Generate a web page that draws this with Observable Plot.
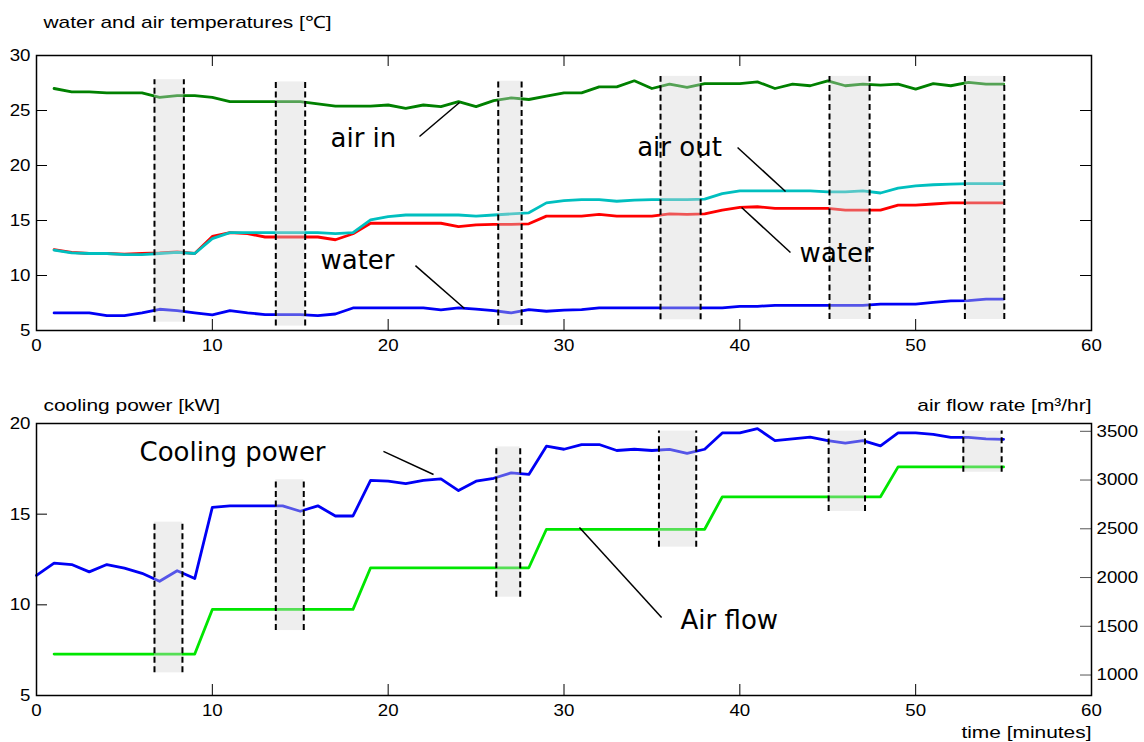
<!DOCTYPE html>
<html><head><meta charset="utf-8">
<script src="https://cdn.jsdelivr.net/npm/d3@7"></script>
<script src="https://cdn.jsdelivr.net/npm/@observablehq/plot@0.6"></script>
<style>
body{margin:0;background:#fff;}
#chart{width:1144px;height:742px;background:#fff;}
#chart svg{display:block;}
</style>
</head><body><div id="chart"></div>
<script>
// ---------- data ----------
const minutes = [1,2,3,4,5,6,7,8,9,10,11,12,13,14,15,16,17,18,19,20,21,22,23,24,25,26,27,28,29,30,31,32,33,34,35,36,37,38,39,40,41,42,43,44,45,46,47,48,49,50,51,52,53,54,55];
const airIn = [27.0,26.7,26.7,26.6,26.6,26.6,26.2,26.35,26.35,26.2,25.8,25.8,25.8,25.8,25.8,25.6,25.4,25.4,25.4,25.5,25.2,25.5,25.35,25.8,25.35,25.9,26.15,26.0,26.3,26.6,26.6,27.15,27.15,27.7,27.0,27.4,27.1,27.45,27.45,27.45,27.6,27.0,27.4,27.25,27.7,27.25,27.4,27.3,27.4,26.95,27.45,27.25,27.55,27.4,27.4];
const airOut = [12.3,12.05,12.0,12.0,11.9,11.9,12.0,12.1,12.0,13.35,13.9,13.9,13.9,13.9,13.9,13.9,13.8,13.9,15.05,15.35,15.5,15.5,15.5,15.5,15.4,15.5,15.6,15.7,16.6,16.8,16.9,16.9,16.75,16.85,16.9,16.9,16.9,16.95,17.45,17.7,17.7,17.7,17.7,17.7,17.6,17.6,17.7,17.5,17.95,18.15,18.25,18.3,18.35,18.35,18.35];
const waterOut = [12.35,12.1,12.0,12.0,11.95,12.0,12.05,12.15,12.0,13.55,13.9,13.8,13.5,13.5,13.5,13.5,13.25,13.8,14.75,14.75,14.75,14.75,14.75,14.45,14.6,14.65,14.65,14.7,15.4,15.4,15.4,15.55,15.4,15.4,15.4,15.6,15.55,15.6,15.95,16.2,16.25,16.1,16.1,16.1,16.1,15.95,15.95,15.95,16.4,16.4,16.5,16.6,16.6,16.6,16.6];
const waterIn = [6.6,6.6,6.6,6.35,6.35,6.6,6.93,6.8,6.6,6.43,6.8,6.6,6.45,6.45,6.45,6.35,6.5,7.05,7.05,7.05,7.05,7.05,6.88,7.05,6.95,6.8,6.6,6.9,6.75,6.85,6.9,7.05,7.05,7.05,7.05,7.05,7.05,7.05,7.05,7.2,7.2,7.28,7.28,7.28,7.28,7.28,7.28,7.4,7.4,7.4,7.55,7.7,7.72,7.85,7.85];

const coolMinutes = [0,1,2,3,4,5,6,7,8,9,10,11,12,13,14,15,16,17,18,19,20,21,22,23,24,25,26,27,28,29,30,31,32,33,34,35,36,37,38,39,40,41,42,43,44,45,46,47,48,49,50,51,52,53,54,55];
const coolingPower = [11.62,12.3,12.22,11.82,12.22,12.02,11.74,11.3,11.88,11.45,15.38,15.46,15.46,15.46,15.46,15.16,15.46,14.9,14.9,16.86,16.82,16.69,16.86,16.95,16.3,16.82,16.98,17.28,17.19,18.75,18.58,18.84,18.84,18.51,18.58,18.51,18.57,18.35,18.58,19.48,19.48,19.72,19.06,19.15,19.25,19.06,18.92,19.06,18.77,19.48,19.48,19.4,19.23,19.23,19.15,19.13];
const airFlow = [1215,1215,1215,1215,1215,1215,1215,1215,1215,1673,1673,1673,1673,1673,1673,1673,1673,1673,2100,2100,2100,2100,2100,2100,2100,2100,2100,2100,2495,2495,2495,2495,2495,2495,2495,2495,2495,2495,2828,2828,2828,2828,2828,2828,2828,2828,2828,2828,3135,3135,3135,3135,3135,3135,3135];

// shaded measurement windows (minutes, and vertical extent in axis units)
const topBandStart = [6.71,13.61,26.26,35.49,45.1,52.8];
const topBandEnd   = [8.38,15.28,27.59,37.77,47.38,55.04];
const topBandLow   = [5.75,5.4,5.45,5.97,6.0,6.0];
const topBandHigh  = [27.8,27.6,27.66,28.1,28.1,28.1];
const botBandStart = [6.71,13.61,26.15,35.4,45.05,52.71];
const botBandEnd   = [8.30,15.2,27.51,37.52,47.12,54.89];
const botBandLow   = [6.25,8.58,10.42,13.18,15.15,17.31];
const botBandHigh  = [14.56,16.9,18.71,19.58,19.58,19.58];

// tick labels and axis titles
const xTicks = [0,10,20,30,40,50,60];
const xInner = [10,20,30,40,50];
const tempTicks = [5,10,15,20,25,30];
const powerTicks = [5,10,15,20];
const flowTicks = [1000,1500,2000,2500,3000,3500];
const flowDomain = [790,3580];
const topTitle = "water and air temperatures [℃]";
const leftTitle = "cooling power [kW]";
const rightTitle = "air flow rate [m³/hr]";
const xTitle = "time [minutes]";

// annotations
const topNotes = [
  {label:"air in", x:16.72, y:22.45},
  {label:"air out", x:34.16, y:21.66},
  {label:"water", x:43.4, y:12.0},
  {label:"water", x:16.15, y:11.36}
];
const topLeaders = [
  {x1:21.78,y1:22.64,x2:24.06,y2:25.73},
  {x1:39.87,y1:21.64,x2:42.6,y2:17.64},
  {x1:40.1,y1:16.18,x2:42.88,y2:12.09},
  {x1:21.55,y1:10.9,x2:24.34,y2:7.0}
];
const botNotes = [
  {label:"Cooling power", x:5.86, y:18.4},
  {label:"Air flow", x:36.63, y:9.14}
];
const botLeaders = [
  {x1:19.73,y1:18.46,x2:22.58,y2:17.19},
  {x1:30.88,y1:14.26,x2:35.55,y2:9.30}
];

// ---------- build ----------
const W = 1144, ML = 36, MR = 53;
const FW = W - ML - MR;
const TICK = 11;
const axisFont = "'Liberation Sans', Arial, Helvetica, sans-serif";
const annoFont = "'DejaVu Sans', Verdana, sans-serif";

const topRows = minutes.map((t,i)=>({t, airIn:airIn[i], airOut:airOut[i], waterOut:waterOut[i], waterIn:waterIn[i]}));
const coolRows = coolMinutes.map((t,i)=>({t, p:coolingPower[i]}));
const flowScale = d3.scaleLinear(flowDomain, [5,20]);
const flowRows = minutes.map((t,i)=>({t, f:airFlow[i]}));
const topBands = topBandStart.map((s,i)=>({x1:s, x2:topBandEnd[i], y1:topBandLow[i], y2:topBandHigh[i]}));
const botBands = botBandStart.map((s,i)=>({x1:s, x2:botBandEnd[i], y1:botBandLow[i], y2:botBandHigh[i]}));

function bandMarks(bands){
  return [
    Plot.rect(bands, {x1:"x1", x2:"x2", y1:"y1", y2:"y2", fill:"#d4d4d4", fillOpacity:0.4}),
    Plot.ruleX(bands, {x:"x1", y1:"y1", y2:"y2", stroke:"black", strokeWidth:2, strokeDasharray:"6,3.5"}),
    Plot.ruleX(bands, {x:"x2", y1:"y1", y2:"y2", stroke:"black", strokeWidth:2, strokeDasharray:"6,3.5"})
  ];
}

const styleObj = {fontFamily: axisFont, fontSize: "17px", background: "white", color: "black", overflow: "visible"};

const TH = 275;
const topPlot = Plot.plot({
  width: W, height: 360,
  marginLeft: ML, marginRight: MR, marginTop: 55, marginBottom: 30,
  x: {domain: [0,60]},
  y: {domain: [5,30]},
  style: styleObj,
  marks: [
    Plot.axisX({ticks: xTicks, tickSize: 0, tickPadding: 8, label: null}),
    Plot.axisY({ticks: tempTicks, tickSize: 0, tickPadding: 6, label: null}),
    Plot.tickX(xInner, {x: d=>d, insetTop: TH - TICK, stroke: "black"}),
    Plot.tickX(xInner, {x: d=>d, insetBottom: TH - TICK, stroke: "black"}),
    Plot.tickY(tempTicks, {y: d=>d, insetRight: FW - TICK, stroke: "black"}),
    Plot.tickY(tempTicks, {y: d=>d, insetLeft: FW - TICK, stroke: "black"}),
    Plot.line(topRows, {x:"t", y:"airIn", stroke:"#008000", strokeWidth:2.8}),
    Plot.line(topRows, {x:"t", y:"waterOut", stroke:"#ff0000", strokeWidth:2.8}),
    Plot.line(topRows, {x:"t", y:"airOut", stroke:"#00bfbf", strokeWidth:2.8}),
    Plot.line(topRows, {x:"t", y:"waterIn", stroke:"#0000f5", strokeWidth:2.8}),
    ...bandMarks(topBands),
    Plot.link(topLeaders, {x1:"x1", y1:"y1", x2:"x2", y2:"y2", stroke:"black", strokeWidth:1.5}),
    Plot.text(topNotes, {x:"x", y:"y", text:"label", textAnchor:"start", fontSize:26, fontFamily:annoFont, fill:"black"}),
    Plot.text([topTitle], {text: d=>d, frameAnchor:"top-left", dx:7, dy:-28, textAnchor:"start", lineAnchor:"bottom"}),
    Plot.frame({stroke:"black", strokeWidth:1.5})
  ]
});

const BH = 272;
const botPlot = Plot.plot({
  width: W, height: 382,
  marginLeft: ML, marginRight: MR, marginTop: 63, marginBottom: 47,
  x: {domain: [0,60]},
  y: {domain: [5,20]},
  style: styleObj,
  marks: [
    Plot.axisX({ticks: xTicks, tickSize: 0, tickPadding: 8, label: null}),
    Plot.axisY({ticks: powerTicks, tickSize: 0, tickPadding: 6, label: null}),
    Plot.text(flowTicks, {y: d=>flowScale(d), text: d=>String(d), frameAnchor:"right", dx:5, textAnchor:"start"}),
    Plot.tickX(xInner, {x: d=>d, insetTop: BH - TICK, stroke: "black"}),
    Plot.tickY(powerTicks, {y: d=>d, insetRight: FW - TICK, stroke: "black"}),
    Plot.tickY(flowTicks, {y: d=>flowScale(d), insetLeft: FW - TICK, stroke: "#555"}),
    Plot.line(flowRows, {x:"t", y: d=>flowScale(d.f), stroke:"#00e600", strokeWidth:2.8}),
    Plot.line(coolRows, {x:"t", y:"p", stroke:"#0000f5", strokeWidth:2.8}),
    ...bandMarks(botBands),
    Plot.link(botLeaders, {x1:"x1", y1:"y1", x2:"x2", y2:"y2", stroke:"black", strokeWidth:1.5}),
    Plot.text(botNotes, {x:"x", y:"y", text:"label", textAnchor:"start", fontSize:26, fontFamily:annoFont, fill:"black"}),
    Plot.text([leftTitle], {text: d=>d, frameAnchor:"top-left", dx:7, dy:-13, textAnchor:"start", lineAnchor:"bottom"}),
    Plot.text([rightTitle], {text: d=>d, frameAnchor:"top-right", dx:0, dy:-13, textAnchor:"end", lineAnchor:"bottom"}),
    Plot.text([xTitle], {text: d=>d, frameAnchor:"bottom-right", dx:0, dy:42, textAnchor:"end", lineAnchor:"bottom"}),
    Plot.frame({stroke:"black", strokeWidth:1.5})
  ]
});

const host = document.getElementById("chart");
host.appendChild(topPlot);
host.appendChild(botPlot);

// The reference's axis lettering is drawn horizontally wider than the plain font:
// widen each such text about its own anchor point.
function widen(el, f){
  const tr = el.getAttribute("transform") || "";
  el.setAttribute("transform", (tr + ` scale(${f},1)`).trim());
}
const titleSet = new Set([topTitle, leftTitle, rightTitle, xTitle]);
const flowSet = new Set(flowTicks.map(String));
document.querySelectorAll('#chart g[aria-label="text"] text').forEach(t => {
  const s = t.textContent;
  if (titleSet.has(s)) widen(t, 1.23);
  else if (flowSet.has(s)) widen(t, 1.1);
});
document.querySelectorAll('#chart g[aria-label="x-axis tick label"] text, #chart g[aria-label="y-axis tick label"] text').forEach(t => widen(t, 1.1));
</script>
</body></html>
